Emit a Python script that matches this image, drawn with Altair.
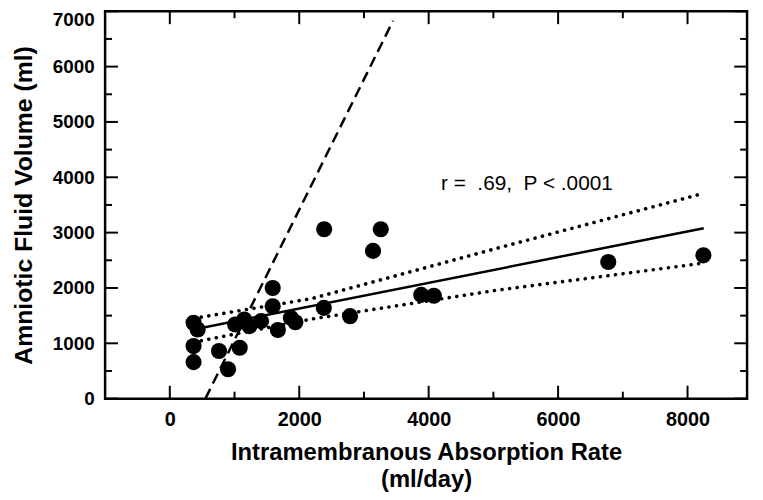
import altair as alt
import pandas as pd

# ---- data ----
rate = [367, 430, 367, 367, 760, 900, 1080, 1010, 1150, 1230, 1410, 1590, 1590, 1670,
        1870, 1940, 2380, 2785, 2385, 3260, 3140, 3885, 4080, 6775, 8245]
volume = [1370, 1250, 950, 660, 860, 530, 920, 1340, 1430, 1310, 1400, 2000, 1670, 1240,
          1460, 1380, 1640, 1490, 3060, 3060, 2670, 1875, 1860, 2470, 2590]

fit_x = [370, 8250]
fit_y = [1250, 3080]
band_x = [370, 2200, 5000, 8250]
band_upper = [1450, 1810, 2700, 3710]
band_lower = [1020, 1440, 1950, 2450]
ident_x = [550, 3450]
ident_y = [0, 6830]

x_major = [0, 2000, 4000, 6000, 8000]
x_minor = [1000, 3000, 5000, 7000]
y_major = [0, 1000, 2000, 3000, 4000, 5000, 6000, 7000]
y_minor = [500, 1500, 2500, 3500, 4500, 5500, 6500]

note_text = ["r = \u00a0.69, \u00a0P < .0001"]
note_x = [4190]
note_y = [3762]

x_title = ["Intramembranous Absorption Rate", "(ml/day)"]
y_title = "Amniotic Fluid Volume (ml)"

# ---- chart ----
W, H = 648, 391
MAJOR, MINOR = 13, 7
FONT = "Liberation Sans"
xs = alt.Scale(domain=[-1000, 8920], nice=False, zero=False)
ys = alt.Scale(domain=[0, 7000], nice=False, zero=False)

pts = pd.DataFrame({"rate": rate, "volume": volume})
fit = pd.DataFrame({"x": fit_x, "y": fit_y})
upper = pd.DataFrame({"x": band_x, "y": band_upper})
lower = pd.DataFrame({"x": band_x, "y": band_lower})
ident = pd.DataFrame({"x": ident_x, "y": ident_y})
note = pd.DataFrame({"x": note_x, "y": note_y, "t": note_text})


def line_layer(df, **mark):
    return alt.Chart(df).mark_line(color="black", **mark).encode(
        x=alt.X("x:Q", scale=xs, axis=None),
        y=alt.Y("y:Q", scale=ys, axis=None),
    )


def x_ticks(values, y0, y1):
    return alt.Chart(pd.DataFrame({"v": values})).mark_rule(
        color="black", strokeWidth=2, orient="vertical").encode(
        x=alt.X("v:Q", scale=xs, axis=None),
        y=alt.value(y0), y2=alt.value(y1),
    )


def y_ticks(values, x0, x1):
    return alt.Chart(pd.DataFrame({"v": values})).mark_rule(
        color="black", strokeWidth=2, orient="horizontal").encode(
        y=alt.Y("v:Q", scale=ys, axis=None),
        x=alt.value(x0), x2=alt.value(x1),
    )


ticks = [
    x_ticks(x_major, H, H - MAJOR), x_ticks(x_minor, H, H - MINOR),
    x_ticks(x_major, 0, MAJOR), x_ticks(x_minor, 0, MINOR),
    y_ticks(y_major, 0, MAJOR), y_ticks(y_minor, 0, MINOR),
    y_ticks(y_major, W, W - MAJOR), y_ticks(y_minor, W, W - MINOR),
]

fit_layer = line_layer(fit, strokeWidth=2.5)
upper_layer = line_layer(upper, strokeWidth=3.6, strokeDash=[0.1, 7.6], strokeCap="round")
lower_layer = line_layer(lower, strokeWidth=3.6, strokeDash=[0.1, 7.6], strokeCap="round")
ident_layer = line_layer(ident, strokeWidth=2.5, strokeDash=[11, 6])

point_layer = alt.Chart(pts).mark_circle(size=265, color="black", opacity=1).encode(
    x=alt.X("rate:Q", scale=xs, axis=alt.Axis(
        orient="bottom", values=x_major, ticks=False, domain=False, grid=False,
        format="d", labelFont=FONT, labelFontSize=20, labelFontWeight="bold",
        labelColor="black", labelPadding=11, title=x_title, titleFont=FONT,
        titleFontSize=24, titleFontWeight="bold", titleColor="black",
        titleLineHeight=28, titlePadding=11)),
    y=alt.Y("volume:Q", scale=ys, axis=alt.Axis(
        orient="left", values=y_major, ticks=False, domain=False, grid=False,
        format="d", labelFont=FONT, labelFontSize=19, labelFontWeight="bold",
        labelColor="black", labelPadding=11,
        labelOffset={"condition": {"test": "datum.value === 7000", "value": 8}, "value": 0},
        title=y_title, titleFont=FONT,
        titleFontSize=25, titleFontWeight="bold", titleColor="black",
        titlePadding=16)),
)

note_layer = alt.Chart(note).mark_text(
    align="left", baseline="alphabetic", font=FONT, fontSize=21, color="black"
).encode(
    x=alt.X("x:Q", scale=xs, axis=None),
    y=alt.Y("y:Q", scale=ys, axis=None),
    text="t:N",
)

chart = alt.layer(
    *ticks, ident_layer, upper_layer, lower_layer, fit_layer, point_layer, note_layer
).resolve_axis(x="independent", y="independent").properties(
    width=W, height=H,
    padding={"left": 98, "top": 1, "right": 8, "bottom": 99},
    autosize=alt.AutoSizeParams(type="none"),
    background="white",
).configure_view(stroke="black", strokeWidth=2.5)

chart.save("out.html", embed_options={"renderer": "svg", "actions": False})
